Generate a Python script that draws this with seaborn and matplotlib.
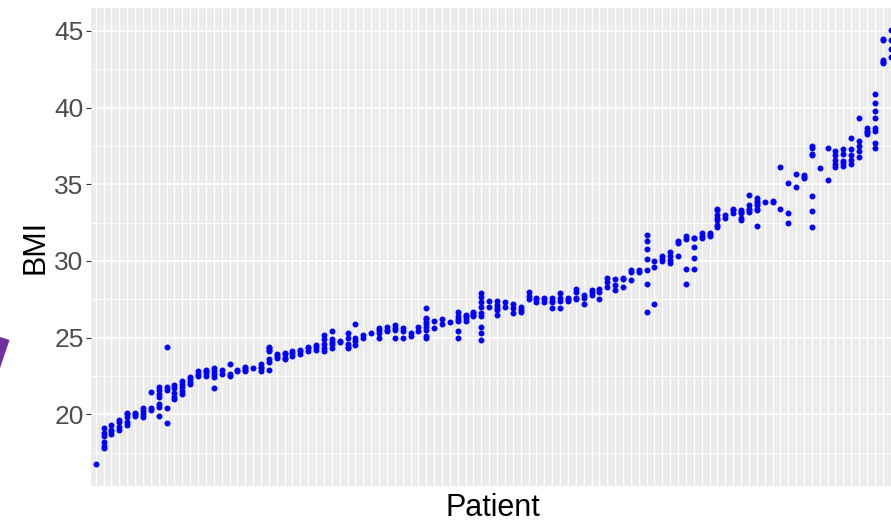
import matplotlib
matplotlib.use("Agg")
import matplotlib.pyplot as plt
import seaborn as sns
import pandas as pd
from matplotlib.patches import Polygon
from matplotlib.ticker import MultipleLocator

# BMI measurements per patient (patients ordered along the x axis)
bmi_values = [
    [16.75],
    [19.1, 18.75, 18.6, 18.2, 17.95, 17.8],
    [18.7, 19.0, 19.3, 18.9],
    [19.2, 19.5, 19.0, 19.6],
    [20.1, 19.8, 19.5, 20.0, 19.3],
    [20.0, 19.9, 20.05],
    [20.4, 19.8, 20.2, 20.0],
    [21.45, 20.3, 20.4],
    [21.8, 21.6, 21.3, 21.1, 20.7, 20.5, 19.9],
    [24.4, 20.4, 19.4, 21.6, 21.8],
    [21.9, 21.7, 21.4, 21.15, 21.0],
    [22.0, 21.8, 21.5, 21.3, 22.2],
    [22.3, 22.1, 22.4, 22.0],
    [22.8, 22.5, 22.6],
    [22.9, 22.7, 22.8, 22.5],
    [23.0, 22.8, 22.6, 22.4, 21.7],
    [22.6, 22.9],
    [23.3, 22.5, 22.6],
    [22.9, 22.8],
    [23.1, 22.9, 22.8, 23.0],
    [23.0],
    [23.3, 23.0, 22.8, 23.1],
    [24.4, 24.2, 24.3, 24.1, 23.6, 23.4, 22.9],
    [23.9, 23.8, 23.7],
    [23.9, 23.7, 24.0, 23.6],
    [24.0, 23.8, 24.1],
    [24.1, 23.9, 24.2],
    [24.3, 24.1, 24.4],
    [24.4, 24.2, 24.5],
    [25.2, 24.9, 24.6, 24.3, 24.1],
    [25.4, 24.9, 24.6, 24.3, 24.7],
    [24.8, 24.7],
    [25.3, 25.0, 24.6, 24.4, 24.3],
    [25.9, 24.8, 24.5, 25.0],
    [25.0, 25.2],
    [25.3],
    [25.6, 25.3, 25.5, 24.96],
    [25.5, 25.7, 25.4],
    [25.6, 25.8, 25.5, 24.96],
    [25.6, 25.4, 24.96],
    [25.3, 25.1],
    [25.7, 25.4],
    [26.9, 26.3, 26.0, 25.7, 25.0, 25.1, 26.2, 25.9, 25.5],
    [26.1, 25.6],
    [26.2, 25.9],
    [26.0],
    [26.7, 26.4, 26.2, 26.1, 25.4, 24.96],
    [26.5, 26.3, 26.1, 26.4],
    [26.7, 26.5, 26.4, 26.6],
    [27.9, 27.65, 27.3, 27.0, 26.6, 26.4, 25.7, 25.3, 24.85],
    [27.4, 27.0],
    [27.4, 27.1, 26.8, 26.5, 26.9],
    [27.3, 27.0],
    [27.2, 26.9, 26.6],
    [27.0, 26.7, 26.8],
    [28.0, 27.5, 27.7],
    [27.5, 27.3, 27.6],
    [27.5, 27.3, 27.6],
    [27.4, 27.6, 27.3, 26.9],
    [27.9, 27.6, 27.4, 26.9],
    [27.4, 27.5, 27.6],
    [28.2, 28.0, 27.5, 27.6],
    [27.8, 27.2, 27.6],
    [28.1, 28.0, 27.8],
    [28.2, 28.0, 27.5],
    [28.9, 28.6, 28.3],
    [28.8, 28.4, 28.1],
    [28.9, 28.8, 28.3],
    [29.4, 29.3, 28.75],
    [29.3, 29.4],
    [31.7, 31.3, 30.8, 30.1, 29.4, 28.5, 26.7],
    [30.0, 29.6, 27.2],
    [30.3, 30.0, 30.1],
    [30.57, 30.3, 30.06, 29.85],
    [31.3, 31.2, 30.3],
    [31.6, 31.4, 29.45, 28.5],
    [30.9, 30.2, 29.5, 31.5, 31.5],
    [31.8, 31.6, 31.5],
    [31.8, 31.6, 31.7],
    [33.4, 33.3, 33.0, 32.8, 32.7, 32.35, 32.2],
    [33.0, 32.8],
    [33.1, 33.3, 33.4],
    [33.1, 32.8, 33.3, 33.2, 32.7],
    [34.3, 33.65, 33.4, 33.3, 33.2],
    [33.9, 34.1, 33.65, 33.4, 33.3, 32.3, 33.76],
    [33.85],
    [33.9, 33.85],
    [36.1, 33.4],
    [33.1, 32.5, 35.1],
    [34.85, 35.7],
    [35.5, 35.4, 35.6],
    [37.5, 37.4, 37.0, 36.9, 34.24, 33.26, 32.2],
    [36.05],
    [37.4, 35.3],
    [37.2, 36.9, 36.6, 36.3, 36.1],
    [37.3, 37.0, 36.5, 36.2, 36.4],
    [37.3, 36.9, 36.3, 36.6, 38.0],
    [39.35, 37.8, 37.5, 37.2, 36.8],
    [38.7, 38.5, 38.4, 38.3],
    [40.87, 40.3, 39.8, 39.35, 38.7, 38.5, 37.7, 37.35],
    [44.45, 44.4, 43.1, 42.9, 43.0],
    [45.07, 44.4, 43.8, 43.3],
]
patient_ids = [f"P{i + 1:03d}" for i in range(len(bmi_values))]
y_ticks = [20, 25, 30, 35, 40, 45]

rows = [(pid, v) for pid, vals in zip(patient_ids, bmi_values) for v in vals]
df = pd.DataFrame(rows, columns=["Patient", "BMI"])

sns.set_theme(style="darkgrid")
plt.rcParams["font.family"] = ["Liberation Sans", "DejaVu Sans"]

fig = plt.figure(figsize=(8.91, 5.23), dpi=100)
ax = fig.add_axes([91 / 891, 37 / 523, 804.3 / 891, 478 / 523])

sns.stripplot(data=df, x="Patient", y="BMI", order=patient_ids, jitter=False,
              color="#0000FF", size=4.3, linewidth=0, ax=ax, zorder=3)

n = len(patient_ids)
ax.set_facecolor("#EBEBEB")
ax.set_xlim(-0.6, n - 0.4)
ax.set_ylim(15.32, 46.5)
ax.set_yticks(y_ticks)
ax.yaxis.set_minor_locator(MultipleLocator(2.5))
ax.set_xticks(range(n))
ax.set_xticklabels([])
ax.set_axisbelow(True)
ax.grid(False)
ax.grid(True, which="major", axis="y", color="white", linewidth=1.2)
ax.grid(True, which="major", axis="x", color="white", linewidth=0.9)
ax.grid(True, which="minor", axis="y", color="white", linewidth=0.6)
ax.tick_params(axis="x", length=0)
ax.tick_params(axis="y", which="major", left=True, length=3.8, width=0.8,
               color="#333333", labelsize=19, labelcolor="#4D4D4D", pad=1.5)
ax.tick_params(axis="y", which="minor", length=0)
for s in ax.spines.values():
    s.set_visible(False)

ax.set_xlabel("Patient", fontsize=22, color="black")
ax.set_ylabel("BMI", fontsize=22, color="black")
ax.xaxis.set_label_coords(0.5, -0.015)
ax.yaxis.set_label_coords(-0.05, 0.5)

# decorative fragment at the left edge
poly = Polygon([(0 / 891, 1 - 337 / 523), (9.5 / 891, 1 - 340 / 523), (0 / 891, 1 - 368 / 523)],
               closed=True, transform=fig.transFigure, facecolor="#7030A0", edgecolor="none")
fig.patches.append(poly)

fig.savefig("out.png", dpi=100)
